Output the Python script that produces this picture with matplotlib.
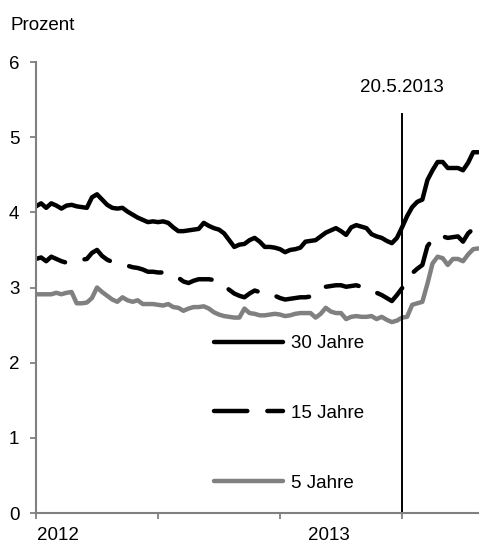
import matplotlib
matplotlib.use("Agg")
import matplotlib.pyplot as plt
import matplotlib.transforms as mtransforms
import pandas as pd

plt.rcParams['font.family'] = ['Liberation Sans', 'DejaVu Sans']

# weekly yields, starting Monday 2 Jan 2012
weeks = pd.date_range("2012-01-02", periods=88, freq="7D")

yield_30 = [4.08, 4.12, 4.06, 4.12, 4.09, 4.05, 4.09, 4.10, 4.08, 4.07,
            4.06, 4.20, 4.24, 4.17, 4.10, 4.06, 4.05, 4.06, 4.01, 3.97,
            3.93, 3.90, 3.87, 3.88, 3.87, 3.88, 3.86, 3.80, 3.75, 3.75,
            3.76, 3.77, 3.78, 3.86, 3.82, 3.79, 3.77, 3.72, 3.63, 3.54,
            3.57, 3.58, 3.63, 3.66, 3.61, 3.54, 3.54, 3.53, 3.51, 3.47,
            3.50, 3.51, 3.53, 3.61, 3.62, 3.63, 3.68, 3.73, 3.76, 3.79,
            3.75, 3.70, 3.80, 3.83, 3.81, 3.79, 3.71, 3.68, 3.66, 3.62,
            3.59, 3.66, 3.80, 3.95, 4.07, 4.14, 4.17, 4.43, 4.56, 4.67,
            4.67, 4.59, 4.59, 4.59, 4.56, 4.66, 4.80, 4.80]

yield_15 = [3.38, 3.40, 3.35, 3.41, 3.38, 3.35, 3.33, 3.36, 3.37, 3.37,
            3.38, 3.46, 3.50, 3.42, 3.37, 3.34, 3.33, 3.31, 3.29, 3.27,
            3.26, 3.24, 3.21, 3.21, 3.20, 3.20, 3.19, 3.16, 3.13, 3.08,
            3.06, 3.09, 3.11, 3.11, 3.11, 3.10, 3.08, 3.02, 2.97, 2.92,
            2.89, 2.87, 2.92, 2.96, 2.94, 2.90, 2.89, 2.89, 2.86, 2.84,
            2.85, 2.86, 2.87, 2.87, 2.88, 2.90, 2.96, 3.01, 3.02, 3.03,
            3.03, 3.01, 3.02, 3.03, 3.01, 2.99, 2.95, 2.93, 2.90, 2.86,
            2.82, 2.90, 2.99, 3.10, 3.19, 3.25, 3.30, 3.55, 3.64, 3.70,
            3.68, 3.66, 3.67, 3.68, 3.61, 3.72, 3.78, 3.78]

yield_5 = [2.91, 2.91, 2.91, 2.91, 2.93, 2.91, 2.93, 2.94, 2.79, 2.79,
           2.80, 2.86, 3.00, 2.94, 2.89, 2.84, 2.81, 2.87, 2.83, 2.81,
           2.83, 2.78, 2.78, 2.78, 2.77, 2.76, 2.78, 2.74, 2.73, 2.69,
           2.72, 2.74, 2.74, 2.75, 2.72, 2.67, 2.64, 2.62, 2.61, 2.60,
           2.60, 2.72, 2.66, 2.65, 2.63, 2.63, 2.64, 2.65, 2.64, 2.62,
           2.63, 2.65, 2.66, 2.66, 2.66, 2.60, 2.65, 2.73, 2.68, 2.66,
           2.66, 2.58, 2.61, 2.62, 2.61, 2.61, 2.62, 2.58, 2.61, 2.57,
           2.54, 2.56, 2.60, 2.61, 2.77, 2.79, 2.81, 3.05, 3.32, 3.41,
           3.39, 3.30, 3.38, 3.38, 3.35, 3.44, 3.51, 3.52]

event_date = pd.Timestamp("2013-05-20")
event_label = "20.5.2013"
tick_dates = pd.to_datetime(["2012-01-02", "2012-06-18", "2012-12-03", "2013-05-20"])
year_labels = ["2012", "2013"]
year_dates = pd.to_datetime(["2012-01-03", "2013-01-10"])

grey = "#808080"
lw = 3.2
fs = 13.5

fig = plt.figure(figsize=(4.79, 5.45), dpi=100)
ax = fig.add_axes([0.0752, 0.0587, 0.9248, 0.8275])

ax.plot(weeks, yield_30, color="black", lw=lw, solid_capstyle="round",
        solid_joinstyle="round", label="30 Jahre")
ax.plot(weeks, yield_15, color="black", lw=lw, linestyle=(0, (7.5, 4.5)),
        dash_capstyle="round", dash_joinstyle="round", label="15 Jahre")
ax.plot(weeks, yield_5, color=grey, lw=lw, solid_capstyle="round",
        solid_joinstyle="round", label="5 Jahre")

ax.axvline(event_date, ymin=0, ymax=5.31 / 6, color="black", lw=1.4)
ax.text(event_date, 5.66, event_label, ha="center", va="center", fontsize=fs)

ax.set_ylim(0, 6)
ax.set_xlim(pd.Timestamp("2012-01-02"), pd.Timestamp("2012-01-02") + pd.Timedelta(days=610))
ax.set_yticks(range(0, 7))
ax.set_xticks(tick_dates)
ax.set_xticklabels([])

for side in ("top", "right"):
    ax.spines[side].set_visible(False)
for side in ("left", "bottom"):
    ax.spines[side].set_color(grey)
    ax.spines[side].set_linewidth(1.5)
ax.tick_params(axis="y", colors=grey, labelcolor="black", length=4, width=1.3,
               labelsize=fs, pad=8)
ax.tick_params(axis="x", colors=grey, length=4, width=1.3)

trans = mtransforms.blended_transform_factory(ax.transData, ax.transAxes)
for lab, d in zip(year_labels, year_dates):
    ax.text(d, -0.03, lab, transform=trans, ha="left", va="top", fontsize=fs)

fig.text(11 / 479, 1 - 25 / 545, "Prozent", ha="left", va="center", fontsize=fs)

# legend sits inside the plot area, below the curves
ax.legend(loc="lower left", bbox_to_anchor=(0.363, 0.01), frameon=False,
          handlelength=3.7, handletextpad=0.42, labelspacing=2.8, fontsize=fs)

fig.savefig("out.png", dpi=100)
